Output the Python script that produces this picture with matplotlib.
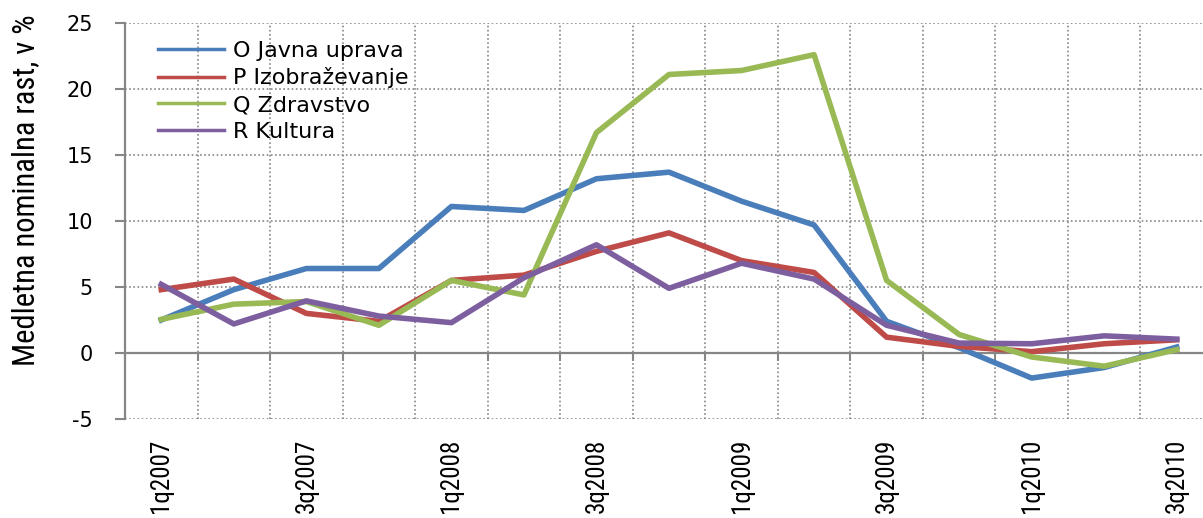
import matplotlib
matplotlib.use("Agg")
import matplotlib.pyplot as plt
from matplotlib import font_manager as fm
import numpy as np

# quarterly data
quarters = ["1q2007", "2q2007", "3q2007", "4q2007",
            "1q2008", "2q2008", "3q2008", "4q2008",
            "1q2009", "2q2009", "3q2009", "4q2009",
            "1q2010", "2q2010", "3q2010"]
javna_uprava = [2.5, 4.8, 6.4, 6.4, 11.1, 10.8, 13.2, 13.7, 11.5, 9.7, 2.4, 0.4, -1.9, -1.1, 0.45]
izobrazevanje = [4.8, 5.6, 3.0, 2.4, 5.5, 5.9, 7.7, 9.1, 7.0, 6.1, 1.2, 0.5, 0.1, 0.7, 1.0]
zdravstvo = [2.55, 3.7, 3.9, 2.1, 5.5, 4.4, 16.7, 21.1, 21.4, 22.6, 5.5, 1.4, -0.3, -1.0, 0.25]
kultura = [5.2, 2.2, 3.95, 2.8, 2.3, 5.7, 8.2, 4.9, 6.8, 5.6, 2.1, 0.75, 0.7, 1.3, 1.05]

series = [
    ("O Javna uprava", javna_uprava, "#4A7EBB"),
    ("P Izobraževanje", izobrazevanje, "#BE4B48"),
    ("Q Zdravstvo", zdravstvo, "#98B954"),
    ("R Kultura", kultura, "#7D5FA0"),
]

plt.rcParams["axes.unicode_minus"] = False
plt.rcParams["font.family"] = "DejaVu Sans"


def pick_narrow_font():
    # look for a condensed face, fall back to the default one
    for name in ["Liberation Sans Narrow", "Roboto Condensed", "Open Sans Condensed"]:
        try:
            fm.findfont(fm.FontProperties(family=name), fallback_to_default=False)
            return name
        except ValueError:
            pass
    return None


narrow = pick_narrow_font()
if narrow is None:
    narrow_font = {"family": "Liberation Sans", "stretch": "condensed"}
    narrow_scale = 0.85
else:
    narrow_font = {"family": narrow}
    narrow_scale = 1.0

W, H = 1203, 518
fig = plt.figure(figsize=(W / 100, H / 100), dpi=100)
# plot area runs a little past the right edge, like the cropped original
ax = fig.add_axes([125 / W, 1 - 419 / H, 1088 / W, 396 / H])

grey = "#868686"
x = np.arange(len(quarters))

for label, values, color in series:
    ax.plot(x, values, color=color, lw=4, label=label, zorder=3,
            solid_joinstyle="round")

ax.set_xlim(-0.5, len(quarters) - 0.5)
ax.set_ylim(-5, 25)
ax.set_yticks(range(-5, 30, 5))

# x axis line sits at zero, ticks between categories
ax.spines["bottom"].set_position(("data", 0))
ax.set_xticks(np.arange(-0.5, len(quarters), 1))
ax.tick_params(axis="x", labelbottom=False, direction="out", length=6,
               width=1.5, color=grey)
ax.tick_params(axis="y", direction="out", length=7, width=1.5, color=grey,
               labelsize=15, pad=16)
for side in ["top", "right"]:
    ax.spines[side].set_visible(False)
for side in ["left", "bottom"]:
    ax.spines[side].set_color(grey)
    ax.spines[side].set_linewidth(1.6)

ax.grid(True, color=grey, linestyle=(0, (1, 1.5)), linewidth=1.2)
ax.set_axisbelow(True)

# category labels at the bottom of the plot area
sec = ax.secondary_xaxis(0)
sec.set_xticks(x[::2], quarters[::2], rotation=90,
               fontsize=18 * narrow_scale, **narrow_font)
sec.tick_params(length=0, pad=14)
sec.spines["bottom"].set_visible(False)

ax.set_ylabel("Medletna nominalna rast, v %", fontsize=22 * narrow_scale,
              **narrow_font)
ax.yaxis.set_label_coords(-0.078, 0.578)

leg = ax.legend(loc="upper left", bbox_to_anchor=(0.03, 0.955), frameon=False,
                fontsize=16, handlelength=3.0, handletextpad=0.4,
                labelspacing=0.3, borderpad=0, borderaxespad=0)
for line in leg.get_lines():
    line.set_linewidth(2.5)

fig.savefig("out.png", dpi=100)
